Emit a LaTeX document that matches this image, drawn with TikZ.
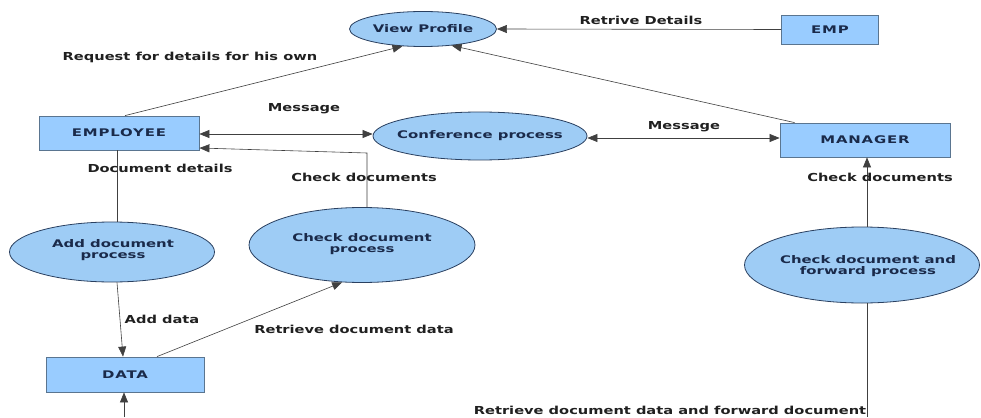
\documentclass[tikz,border=0pt]{standalone}
\usepackage{fontspec}
\setmainfont{DejaVu Sans}
\newfontfamily\nodefont[FakeStretch=1.42]{DejaVu Sans}
\newfontfamily\capsfont[FakeStretch=1.42,LetterSpace=8]{DejaVu Sans}
\newfontfamily\labfont[FakeStretch=1.33]{DejaVu Sans}
\usetikzlibrary{shapes.geometric,arrows.meta}
\definecolor{boxfill}{HTML}{99CCFF}
\definecolor{ellfill}{HTML}{9ECCF5}
\definecolor{boxline}{HTML}{5A7590}
\definecolor{ellline}{HTML}{2A4060}
\definecolor{nodetext}{HTML}{1A2A4A}
\definecolor{labtext}{HTML}{202020}
\tikzset{
  entity/.style={draw=boxline, line width=0.8pt, fill=boxfill, rectangle, inner sep=0pt,
    font=\capsfont\bfseries\fontsize{10.5}{11}\selectfont, text=nodetext},
  proc/.style={draw=ellline, line width=0.8pt, fill=ellfill, ellipse, inner sep=0pt},
  ptext/.style={font=\nodefont\bfseries\fontsize{10.5}{11}\selectfont, text=nodetext, align=center, inner sep=0pt},
  lab/.style={font=\labfont\bfseries\fontsize{11}{12}\selectfont, text=labtext, inner sep=0pt},
  flow/.style={draw=black!75, line width=0.6pt},
  tip/.style={-{Triangle[length=10pt,width=8pt]}},
  tips/.style={{Triangle[length=10pt,width=8pt]}-{Triangle[length=10pt,width=8pt]}},
}
\begin{document}
\begin{tikzpicture}[x=1pt,y=-1pt]
\useasboundingbox[fill=white] (0,0) rectangle (981,417);
% nodes
\node[proc, minimum width=147pt, minimum height=35pt] (vp) at (423,29) {};
\node[ptext] (vpt) at (vp) {View Profile};
\node[entity, minimum width=97pt, minimum height=29pt] (emp) at (830,29.5) {EMP};
\node[entity, minimum width=160pt, minimum height=34pt] (employee) at (119,133) {EMPLOYEE};
\node[proc, minimum width=214pt, minimum height=48pt] (conf) at (480,136) {};
\node[ptext] (conft) at (conf) {Conference process};
\node[entity, minimum width=170pt, minimum height=34pt] (manager) at (865,140) {MANAGER};
\node[proc, minimum width=205pt, minimum height=60pt] (add) at (112,252) {};
\node[ptext] (addt) at (113,250) {Add document\\process};
\node[proc, minimum width=226pt, minimum height=75pt] (check) at (362,245) {};
\node[ptext] (checkt) at (362,244) {Check document\\process};
\node[proc, minimum width=235pt, minimum height=76pt] (fwd) at (862,265) {};
\node[ptext] (fwdt) at (868,266) {Check document and\\forward process};
\node[entity, minimum width=158pt, minimum height=35pt] (data) at (125,374.5) {DATA};
% free ends
\coordinate (botR) at (867,417);
\coordinate (botL) at (124,417);
\coordinate (bend) at (367,153);
% connectors
\draw[flow,tip] (emp.west) -- (vp.east);
\draw[flow,tip] (manager.north west) ++(15,0) coordinate (mtop) -- (vp.-30);
\draw[flow,tip] (employee.north) ++(6,0) -- (vp.-140);
\draw[flow,tips] (employee.east |- 0,134) -- (conf.west |- 0,134);
\draw[flow,tips] (conf.east |- 0,138) -- (manager.west |- 0,138);
\draw[flow,tip] (fwd.north -| botR) -- (manager.south -| botR);
\draw[flow] (fwd.south -| botR) -- (botR);
\draw[flow,tip] (botL) -- (data.south -| botL);
\draw[flow] (employee.south -| 117,0) -- (add.north -| 117,0);
\draw[flow,tip] (add.south -| 117,0) -- (data.north -| 123,0);
\draw[flow,tip] (data.north -| 157,0) -- (check.-118);
\draw[flow,tip] (check.north -| bend) -- (bend) -- (employee.east |- 0,148);
% labels
\node[lab] (l1) at (641,20) {Retrive Details};
\node[lab] (l2) at (190,57) {Request for details for his own};
\node[lab] (l3) at (304,109) {Message};
\node[lab] (l4) at (684,127) {Message};
\node[lab] (l5) at (880,177) {Check documents};
\node[lab] (l6) at (160,168) {Document details};
\node[lab] (l7) at (364,177) {Check documents};
\node[lab] (l8) at (162,319) {Add data};
\node[lab] (l9) at (354,329) {Retrieve document data};
\node[lab] (l10) at (670,410) {Retrieve document data and forward document};
\end{tikzpicture}
\end{document}
